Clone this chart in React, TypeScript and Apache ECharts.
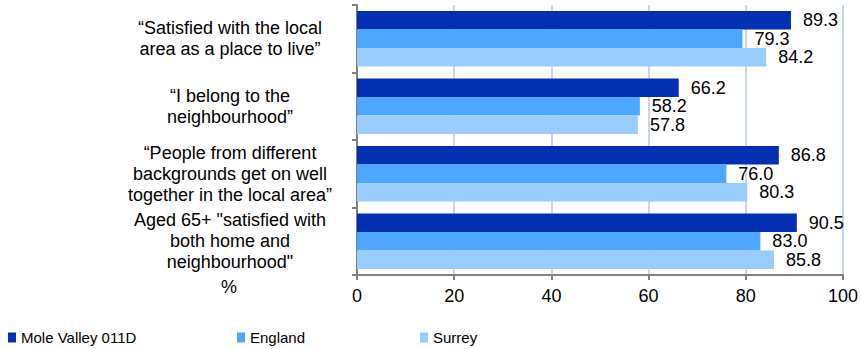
import React, { useEffect, useRef } from "react";
import * as echarts from "echarts";

const categories = [
  "“Satisfied with the local\narea as a place to live”",
  "“I belong to the\nneighbourhood”",
  "“People from different\nbackgrounds get on well\ntogether in the local area”",
  'Aged 65+ "satisfied with\nboth home and\nneighbourhood"',
];
const seriesNames = ["Mole Valley 011D", "England", "Surrey"];
const moleValley = [89.3, 66.2, 86.8, 90.5];
const england = [79.3, 58.2, 76.0, 83.0];
const surrey = [84.2, 57.8, 80.3, 85.8];
const xTicks = { min: 0, max: 100, interval: 20 };
const axisUnit = "%";

const colors = ["#0330B2", "#4DA6FF", "#99CCFF"];
const FONT = "Liberation Sans, Arial, sans-serif";

export default function App() {
  const ref = useRef<HTMLDivElement>(null);
  useEffect(() => {
    const chart = echarts.init(ref.current!, null, { renderer: "svg" });
    const values = [moleValley, england, surrey];
    const legendLefts = [8, 237, 420];
    chart.setOption({
      animation: false,
      textStyle: { fontFamily: FONT },
      grid: { left: 357, right: 16, top: 5, bottom: 74, containLabel: false },
      legend: seriesNames.map((n, i) => ({
        data: [n],
        left: legendLefts[i],
        top: 330,
        padding: 0,
        icon: "rect",
        itemWidth: 8,
        itemHeight: 10,
        textStyle: {
          fontFamily: "Liberation Sans Narrow, Arial Narrow, sans-serif",
          fontSize: 15,
          color: "#000",
        },
      })),
      xAxis: {
        type: "value",
        min: xTicks.min,
        max: xTicks.max,
        interval: xTicks.interval,
        axisLine: { show: true, lineStyle: { color: "#808080", width: 2 } },
        axisTick: { show: true, length: 5, lineStyle: { color: "#808080", width: 2 } },
        axisLabel: { color: "#000", fontSize: 18, margin: 12, fontFamily: FONT },
        splitLine: { show: true, lineStyle: { color: "#C6D6EC", width: 2 } },
      },
      yAxis: {
        type: "category",
        data: categories,
        inverse: true,
        axisLine: { show: true, lineStyle: { color: "#808080", width: 2 } },
        axisTick: { show: true, length: 5, lineStyle: { color: "#808080", width: 2 } },
        axisLabel: {
          color: "#000",
          fontSize: 18,
          lineHeight: 21,
          align: "center",
          margin: 127,
          fontFamily: FONT,
        },
      },
      graphic: [
        {
          type: "text",
          left: 221,
          top: 278,
          style: { text: axisUnit, fill: "#000", font: `18px ${FONT}` },
        },
      ],
      series: seriesNames.map((n, i) => ({
        name: n,
        type: "bar",
        data: values[i],
        barGap: "0%",
        barCategoryGap: "18%",
        itemStyle: { color: colors[i] },
        label: {
          show: true,
          position: "right",
          distance: 12,
          color: "#000",
          fontSize: 18,
          fontFamily: FONT,
          formatter: (p: any) => Number(p.value).toFixed(1),
        },
      })),
    });
    return () => chart.dispose();
  }, []);
  return (
    <div
      ref={ref}
      style={{ position: "absolute", left: 0, top: 0, width: 861, height: 349 }}
    />
  );
}
